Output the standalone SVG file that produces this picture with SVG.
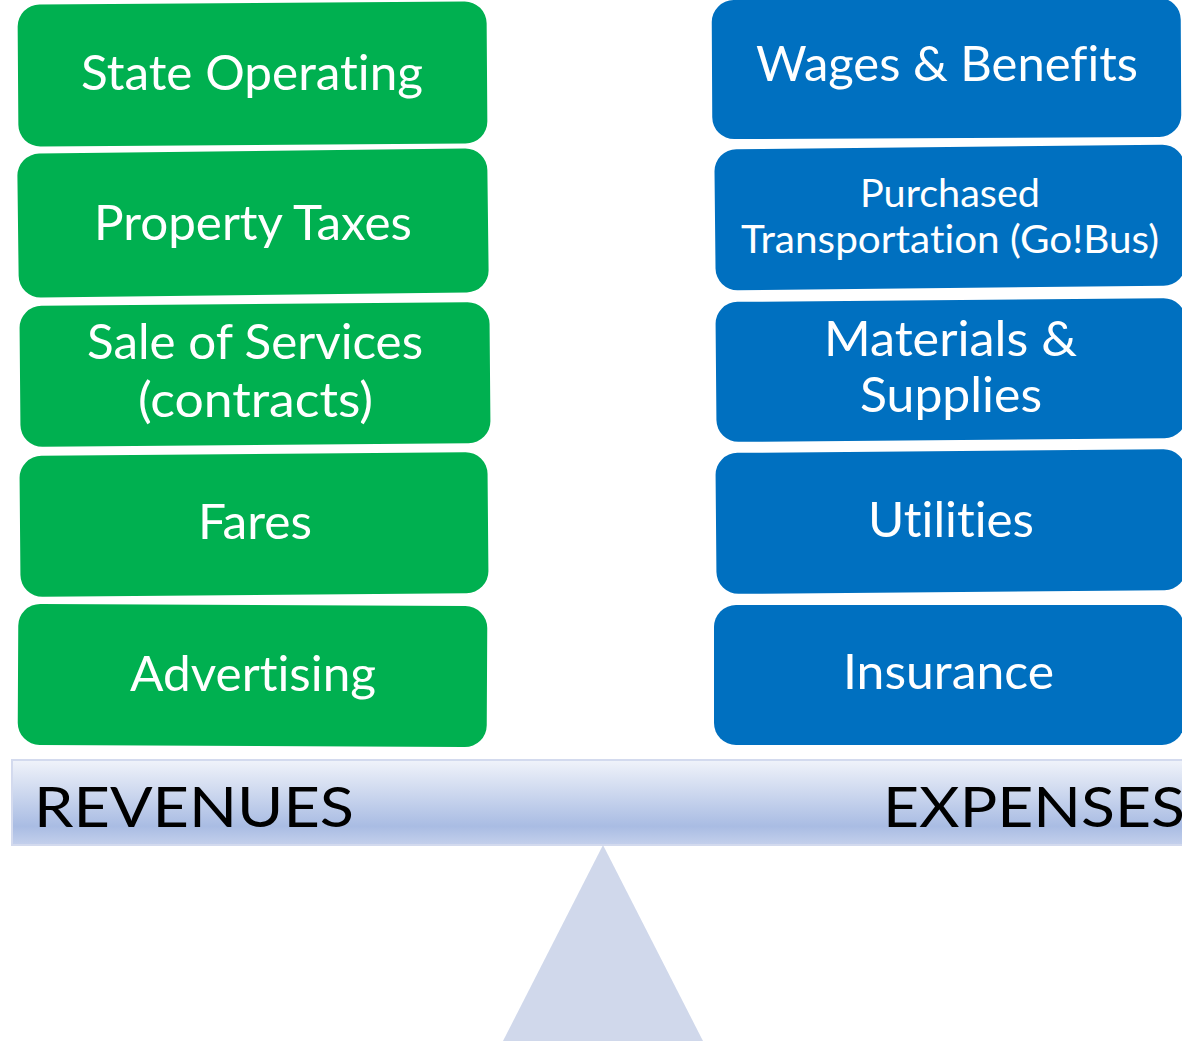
<svg xmlns="http://www.w3.org/2000/svg" width="1182" height="1041" viewBox="0 0 1182 1041">
  <defs>
    <linearGradient id="beamFill" x1="0" y1="0" x2="0" y2="1">
      <stop offset="0" stop-color="#f0f3fa"/>
      <stop offset="0.78" stop-color="#a9bce3"/>
      <stop offset="1" stop-color="#c4d0ec"/>
    </linearGradient>
  </defs>
  <style>
    .rev { fill: #00b050; }
    .exp { fill: #0070c0; }
    .lbl { font-family: Lato, "Open Sans", "Liberation Sans", sans-serif; fill: #ffffff; font-size: 49px; font-variant-ligatures: none; }
    .sm { font-size: 38px; }
    .side { font-family: Lato, "Open Sans", "Liberation Sans", sans-serif; fill: #000000; font-size: 56px; font-variant-ligatures: none; }
  </style>

  <rect width="1182" height="1041" fill="#ffffff"/>

  <!-- revenue column -->
  <g id="state-operating">
    <rect class="rev" x="18" y="3" width="469" height="142" rx="22" transform="rotate(-0.4 252.5 74)"/>
    <text class="lbl" x="81" y="90" textLength="342" lengthAdjust="spacingAndGlyphs">State Operating</text>
  </g>
  <g id="property-taxes">
    <rect class="rev" x="18" y="151" width="470" height="144" rx="22" transform="rotate(-0.7 253 223)"/>
    <text class="lbl" x="94" y="240" textLength="318" lengthAdjust="spacingAndGlyphs">Property Taxes</text>
  </g>
  <g id="sale-of-services">
    <rect class="rev" x="20" y="304" width="470" height="141" rx="22" transform="rotate(-0.5 255 375)"/>
    <text class="lbl" x="87" y="359" textLength="336" lengthAdjust="spacingAndGlyphs">Sale of Services</text>
    <text class="lbl" x="138" y="417" textLength="235" lengthAdjust="spacingAndGlyphs">(contracts)</text>
  </g>
  <g id="fares">
    <rect class="rev" x="20" y="454" width="468" height="141" rx="22" transform="rotate(-0.5 254 525)"/>
    <text class="lbl" x="198" y="539" textLength="114" lengthAdjust="spacingAndGlyphs">Fares</text>
  </g>
  <g id="advertising">
    <rect class="rev" x="18" y="605" width="469" height="141" rx="22" transform="rotate(0.3 252.5 676)"/>
    <text class="lbl" x="130" y="691" textLength="246" lengthAdjust="spacingAndGlyphs">Advertising</text>
  </g>

  <!-- expense column -->
  <g id="wages-benefits">
    <rect class="exp" x="712" y="-1" width="469" height="139" rx="22" transform="rotate(-0.3 946.5 68.5)"/>
    <text class="lbl" x="756" y="81" textLength="382" lengthAdjust="spacingAndGlyphs">Wages &amp; Benefits</text>
  </g>
  <g id="purchased-transportation">
    <rect class="exp" x="715" y="147" width="470" height="141" rx="22" transform="rotate(-0.6 950 217.5)"/>
    <text class="lbl sm" x="860" y="207" textLength="180" lengthAdjust="spacingAndGlyphs">Purchased</text>
    <text class="lbl sm" x="741" y="253" textLength="418" lengthAdjust="spacingAndGlyphs">Transportation (Go!Bus)</text>
  </g>
  <g id="materials-supplies">
    <rect class="exp" x="716" y="300" width="470" height="140" rx="22" transform="rotate(-0.5 951 370)"/>
    <text class="lbl" x="824" y="356" textLength="253" lengthAdjust="spacingAndGlyphs">Materials &amp;</text>
    <text class="lbl" x="860" y="412" textLength="182" lengthAdjust="spacingAndGlyphs">Supplies</text>
  </g>
  <g id="utilities">
    <rect class="exp" x="716" y="451" width="470" height="141" rx="22" transform="rotate(-0.5 951 521.5)"/>
    <text class="lbl" x="868" y="537" textLength="166" lengthAdjust="spacingAndGlyphs">Utilities</text>
  </g>
  <g id="insurance">
    <rect class="exp" x="714" y="605" width="470" height="140" rx="22"/>
    <text class="lbl" x="843" y="689" textLength="211" lengthAdjust="spacingAndGlyphs">Insurance</text>
  </g>

  <!-- balance beam and fulcrum -->
  <g id="balance">
    <rect x="12" y="760" width="1175" height="85" fill="url(#beamFill)" stroke="#d3daee" stroke-width="2"/>
    <text class="side" x="34" y="827" textLength="320" lengthAdjust="spacingAndGlyphs">REVENUES</text>
    <text class="side" x="883" y="827" textLength="302" lengthAdjust="spacingAndGlyphs">EXPENSES</text>
    <polygon points="603,845 503,1041 703,1041" fill="#d0d8eb"/>
  </g>
  <g id="connectors"/>
</svg>
